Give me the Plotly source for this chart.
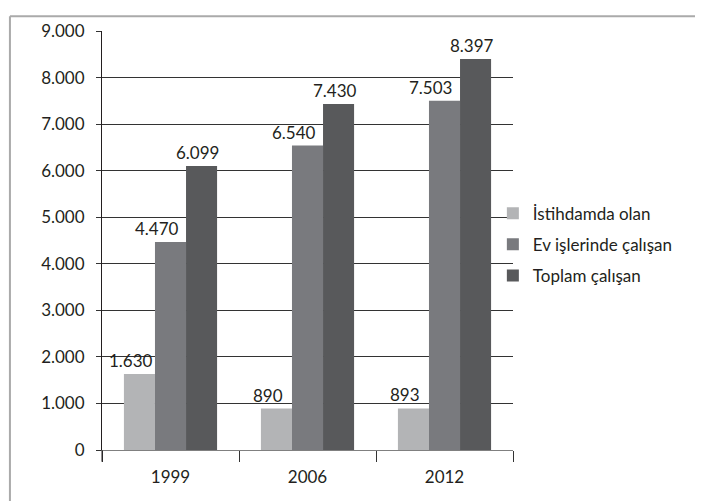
import plotly.graph_objects as go

years = ["1999", "2006", "2012"]
series_names = ["İstihdamda olan", "Ev işlerinde çalışan", "Toplam çalışan"]
istihdamda = [1630, 890, 893]
ev_isleri = [4470, 6540, 7503]
toplam = [6099, 7430, 8397]
colors = ["#b3b4b6", "#797a7e", "#58595b"]
y_ticks = [0, 1000, 2000, 3000, 4000, 5000, 6000, 7000, 8000, 9000]
y_tick_labels = ["0", "1.000", "2.000", "3.000", "4.000", "5.000", "6.000", "7.000", "8.000", "9.000"]

def fmt(v):
    return f"{v:,}".replace(",", ".")

FONT = "Lato, Open Sans, sans-serif"
TXT = "#231f20"

fig = go.Figure()
all_series = [istihdamda, ev_isleri, toplam]
for i, (name, vals, col) in enumerate(zip(series_names, all_series, colors)):
    fig.add_trace(go.Bar(
        x=years, y=vals, name=name, legendgroup=f"g{i}",
        marker=dict(color=col, line=dict(width=0)),
        cliponaxis=False,
    ))

# value labels drawn as annotations so they sit on top of neighbouring bars
bar_px = 411 / 3 * (1 - 0.32) / 3
label_shift = [-8, -14, -4]
annotations = []
for i, vals in enumerate(all_series):
    for j, v in enumerate(vals):
        annotations.append(dict(
            x=j, y=v, xref="x", yref="y", text=fmt(v), showarrow=False,
            xanchor="center", yanchor="bottom",
            xshift=(i - 1) * bar_px + label_shift[i], yshift=1,
            font=dict(family=FONT, size=17, color=TXT),
        ))

fig.update_layout(
    width=695, height=493,
    margin=dict(l=94, r=190, t=16, b=51),
    paper_bgcolor="white", plot_bgcolor="white",
    barmode="group", bargap=0.32, bargroupgap=0,
    font=dict(family=FONT, size=17, color=TXT),
    showlegend=True,
    annotations=annotations,
    legend=dict(x=0.951, xanchor="left", y=0.49, yanchor="middle",
                font=dict(family=FONT, size=17, color=TXT),
                itemwidth=30, tracegroupgap=6, bgcolor="rgba(0,0,0,0)"),
    xaxis=dict(type="category", categoryorder="array", categoryarray=years,
               showline=True, linecolor="#808080", linewidth=1,
               ticks="outside", tickson="boundaries", ticklen=11, tickcolor="#333",
               ticklabelstandoff=12,
               tickfont=dict(family=FONT, size=17, color=TXT),
               showgrid=False, zeroline=False),
    yaxis=dict(range=[0, 9000], tickvals=y_ticks, ticktext=y_tick_labels,
               showgrid=True, gridcolor="#333333", gridwidth=1,
               showline=True, linecolor=TXT, linewidth=1,
               ticks="outside", ticklen=5, tickcolor="#333",
               ticklabelstandoff=8,
               tickfont=dict(family=FONT, size=17, color=TXT),
               zeroline=False),
    shapes=[
        dict(type="line", xref="paper", yref="paper", x0=-0.224, x1=1.46, y0=1.035, y1=1.035,
             line=dict(color="#aaaaaa", width=2)),
        dict(type="line", xref="paper", yref="paper", x0=-0.224, x1=-0.224, y0=1.035, y1=-0.125,
             line=dict(color="#aaaaaa", width=2)),
        dict(type="line", xref="paper", yref="paper", x0=0, x1=0, y0=0, y1=-0.028,
             line=dict(color=TXT, width=1)),
    ],
)

fig.write_html("out.html")
